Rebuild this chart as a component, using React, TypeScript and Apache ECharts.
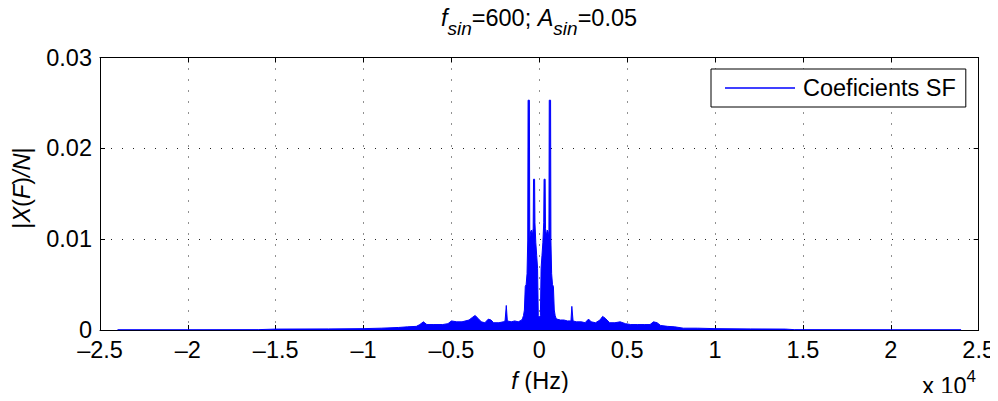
import React, { useEffect, useRef } from "react";
import * as echarts from "echarts";

// Frequency samples (Hz) and spectrum magnitude |X(F)/N|
const freqHz = [
  -24000, -20000, -16000, -15000, -12000, -10000, -9000, -8000, -7500, -7000,
  -6800, -6600, -6400, -6000, -5500, -5200, -5000, -4700, -4400, -4000,
  -3800, -3650, -3500, -3300, -3100, -2900, -2750, -2600, -2300, -2050,
  -1950, -1880, -1820, -1600, -1400, -1200, -1000, -950, -900, -850,
  -800, -750, -700, -660, -640, -565, -545, -500, -450, -400,
  -350, -330, -270, -250, -200, -150, -100, -60, 0, 60,
  100, 150, 200, 250, 270, 330, 350, 400, 450, 500,
  545, 565, 640, 660, 700, 750, 800, 850, 900, 950,
  1000, 1200, 1400, 1600, 1800, 1850, 1920, 2100, 2400, 2600,
  2800, 2950, 3200, 3450, 3600, 3750, 4000, 4300, 4600, 4900,
  5200, 5600, 6000, 6300, 6500, 6700, 6900, 7300, 7700, 8200,
  9000, 10000, 12000, 14000, 14500, 20000, 24000,
];
const magnitude = [
  0.00003, 0.00003, 0.00004, 0.0001, 0.00012, 0.00015, 0.0002, 0.00028, 0.00035, 0.0004,
  0.0006, 0.0009, 0.0006, 0.0006, 0.0006, 0.0007, 0.001, 0.0009, 0.0009, 0.0011,
  0.0014, 0.0016, 0.0013, 0.0009, 0.0008, 0.0012, 0.0011, 0.0008, 0.0008, 0.0009,
  0.001, 0.0027, 0.001, 0.0009, 0.001, 0.0009, 0.0011, 0.0013, 0.0016, 0.0022,
  0.0048, 0.005, 0.0062, 0.0098, 0.0253, 0.0253, 0.01, 0.0108, 0.011, 0.0104,
  0.0112, 0.0166, 0.0166, 0.0118, 0.0096, 0.0082, 0.0068, 0.0016, 0.0014, 0.0016,
  0.0068, 0.0082, 0.0096, 0.0118, 0.0166, 0.0166, 0.0112, 0.0104, 0.011, 0.0108,
  0.01, 0.0253, 0.0253, 0.0098, 0.0062, 0.005, 0.0048, 0.0022, 0.0016, 0.0013,
  0.0012, 0.0011, 0.0011, 0.001, 0.001, 0.0026, 0.001, 0.0009, 0.0009, 0.0008,
  0.0012, 0.0009, 0.0008, 0.0011, 0.0015, 0.0013, 0.0008, 0.0008, 0.0009, 0.0007,
  0.0006, 0.0006, 0.0006, 0.0006, 0.0009, 0.0008, 0.0005, 0.0004, 0.00035, 0.0002,
  0.0002, 0.00015, 0.00012, 0.0001, 0.00004, 0.00003, 0.00003,
];
const seriesName = "Coeficients SF";
const xTickStep = 5000;
const xMin = -25000;
const xMax = 25000;
const yMin = 0;
const yMax = 0.03;
const yTickStep = 0.01;

const FONT = "'Liberation Sans', Arial, Helvetica, sans-serif";
const FS = 23.5;

export default function App() {
  const ref = useRef<HTMLDivElement>(null);
  useEffect(() => {
    if (!ref.current) return;
    const chart = echarts.init(ref.current, undefined, { renderer: "svg" });
    const data = freqHz.map((f, i) => [f, magnitude[i]]);
    const grid = { left: 100, right: 19, top: 57.5, bottom: 71 };
    const xLabel = (v: number) => {
      const t = v / 1e4;
      return t < 0 ? "\u2013" + Math.abs(t) : String(t);
    };
    const yLabel = (v: number) => (v === 0 ? "0" : v.toFixed(2));
    const dotted = { show: true, lineStyle: { color: "#222", width: 1, type: [1, 10] as any } };
    chart.setOption({
      animation: false,
      backgroundColor: "#fff",
      textStyle: { fontFamily: FONT },
      grid,
      legend: {
        data: [{ name: seriesName, icon: "rect" }],
        left: 711,
        top: 69,
        padding: [7, 10, 7, 14],
        itemWidth: 70,
        itemHeight: 1.5,
        backgroundColor: "#fff",
        borderColor: "#000",
        borderWidth: 1,
        borderRadius: 0,
        textStyle: { fontFamily: FONT, fontSize: FS, color: "#000", lineHeight: 23, padding: [0, 0, 0, 3] },
      },
      xAxis: [
        {
          type: "value",
          min: xMin,
          max: xMax,
          interval: xTickStep,
          position: "bottom",
          axisLine: { show: true, onZero: false, lineStyle: { color: "#000", width: 1 } },
          axisTick: { show: true, inside: true, length: 5, lineStyle: { color: "#000" } },
          axisLabel: { formatter: xLabel, color: "#000", fontSize: FS, fontFamily: FONT, margin: 8 },
          splitLine: dotted,
        },
        {
          type: "value",
          min: xMin,
          max: xMax,
          interval: xTickStep,
          position: "top",
          axisLine: { show: true, onZero: false, lineStyle: { color: "#000", width: 1 } },
          axisTick: { show: true, inside: true, length: 5, lineStyle: { color: "#000" } },
          axisLabel: { show: false },
          splitLine: { show: false },
        },
      ],
      yAxis: [
        {
          type: "value",
          min: yMin,
          max: yMax,
          interval: yTickStep,
          position: "left",
          axisLine: { show: true, onZero: false, lineStyle: { color: "#000", width: 1 } },
          axisTick: { show: true, inside: true, length: 5, lineStyle: { color: "#000" } },
          axisLabel: { formatter: yLabel, color: "#000", fontSize: FS, fontFamily: FONT, margin: 8 },
          splitLine: dotted,
        },
        {
          type: "value",
          min: yMin,
          max: yMax,
          interval: yTickStep,
          position: "right",
          axisLine: { show: true, onZero: false, lineStyle: { color: "#000", width: 1 } },
          axisTick: { show: true, inside: true, length: 5, lineStyle: { color: "#000" } },
          axisLabel: { show: false },
          splitLine: { show: false },
        },
      ],
      series: [
        {
          name: seriesName,
          type: "line",
          xAxisIndex: 0,
          yAxisIndex: 0,
          data,
          symbol: "none",
          color: "#0000ff",
          lineStyle: { color: "#0000ff", width: 1 },
          areaStyle: { color: "#0000ff", opacity: 1 },
          z: 3,
        },
      ],
      graphic: [
        {
          type: "text",
          x: 539,
          y: 6,
          style: {
            text: "{i|f}{s|sin}{n|=600; }{i|A}{s|sin}{n|=0.05}",
            align: "center",
            verticalAlign: "top",
            rich: {
              i: { fontFamily: FONT, fontSize: FS, fontStyle: "italic", fill: "#000", verticalAlign: "top", lineHeight: 26 },
              n: { fontFamily: FONT, fontSize: FS, fill: "#000", verticalAlign: "top", lineHeight: 26 },
              s: { fontFamily: FONT, fontSize: 19, fontStyle: "italic", fill: "#000", verticalAlign: "top", lineHeight: 20, padding: [13, 0, 0, 0] },
            },
          },
        },
        {
          type: "text",
          x: 540,
          y: 369,
          style: {
            text: "{i|f}{n| (Hz)}",
            align: "center",
            verticalAlign: "top",
            rich: {
              i: { fontFamily: FONT, fontSize: FS, fontStyle: "italic", fill: "#000" },
              n: { fontFamily: FONT, fontSize: FS, fill: "#000" },
            },
          },
        },
        {
          type: "text",
          x: 976,
          y: 368,
          style: {
            text: "{n|x 10}{p|4}",
            align: "right",
            verticalAlign: "top",
            rich: {
              n: { fontFamily: FONT, fontSize: FS, fill: "#000", verticalAlign: "top", lineHeight: 26, padding: [6, 0, 0, 0] },
              p: { fontFamily: FONT, fontSize: 17, fill: "#000", verticalAlign: "top", lineHeight: 18 },
            },
          },
        },
        {
          type: "text",
          x: 22,
          y: 188,
          rotation: Math.PI / 2,
          style: {
            text: "{n||}{i|X}{n|(}{i|F}{n|)}{i|/N}{n||}",
            align: "center",
            verticalAlign: "middle",
            rich: {
              i: { fontFamily: FONT, fontSize: FS, fontStyle: "italic", fill: "#000" },
              n: { fontFamily: FONT, fontSize: FS, fill: "#000" },
            },
          },
        },
      ],
    });
    return () => chart.dispose();
  }, []);
  return <div ref={ref} style={{ width: 998, height: 401, margin: -8 }} />;
}
